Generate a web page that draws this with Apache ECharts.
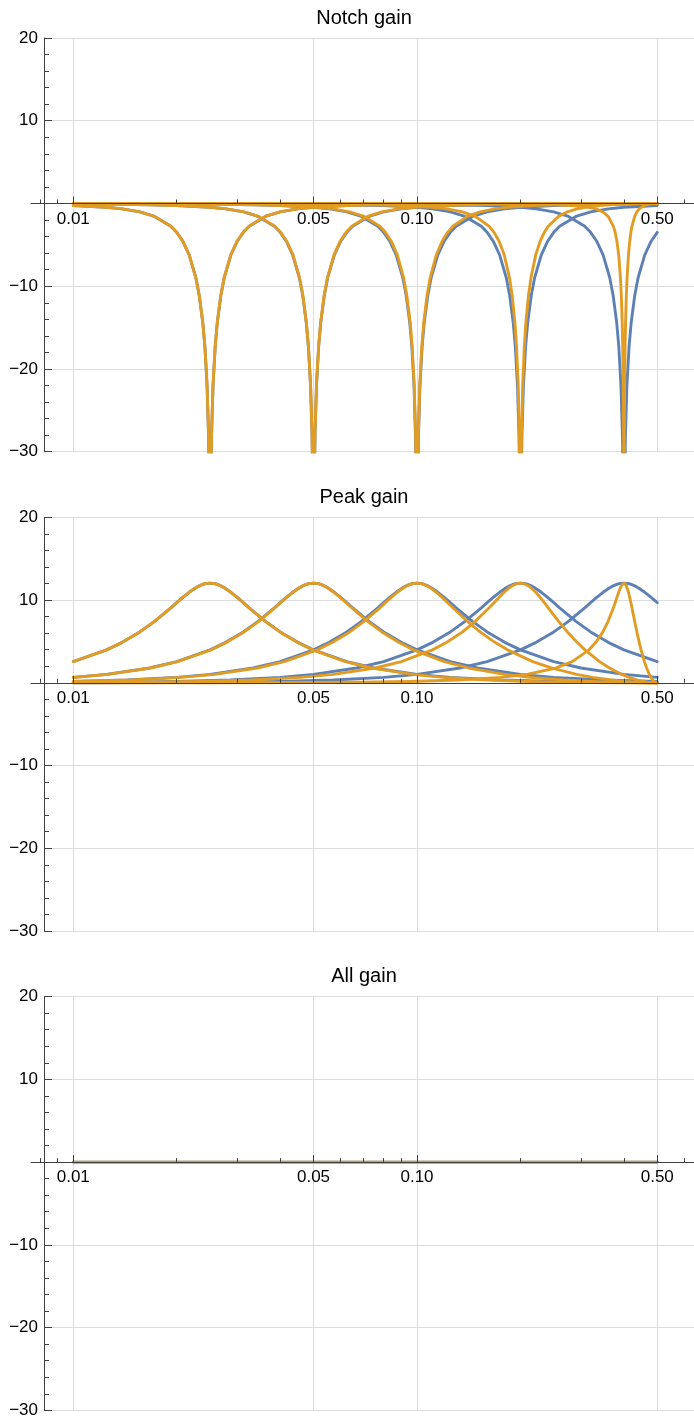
<!DOCTYPE html>
<html><head><meta charset="utf-8">
<script src="https://cdn.jsdelivr.net/npm/echarts@6/dist/echarts.min.js"></script>
<style>html,body{margin:0;padding:0;background:#fff}#c{width:694px;height:1421px}</style>
</head><body><div id="c"></div>
<script>
// ---- labels / ticks ----
const panelTitles = ['Notch gain', 'Peak gain', 'All gain'];
const xMajorTicks = [0.01, 0.05, 0.1, 0.5];
const xMinorTicks = [0.008, 0.009, 0.02, 0.03, 0.04, 0.06, 0.07, 0.08, 0.09, 0.2, 0.3, 0.4, 0.6];
const yGridValues = [20, 10, 0, -10, -20, -30];
const xRange = [0.0075344, 0.63958];
const yRange = [-30, 20];
const yAxisAt = 0.00822;

// ---- Notch gain (dB) : blue = analog, orange = digital ----
const notchBlue025 = [[0.01,-0.24],[0.0125,-0.46],[0.013889,-0.65],[0.015625,-1.01],[0.017241,-1.56],[0.019231,-2.76],[0.02,-3.49],[0.020833,-4.56],[0.021739,-6.21],[0.022727,-8.95],[0.023256,-11.12],[0.02381,-14.35],[0.024155,-17.31],[0.02451,-22.05],[0.024752,-28.0],[0.024876,-34.0],[0.02495,-41.9],[0.02505,-41.9],[0.025125,-34.0],[0.02525,-28.0],[0.0255,-22.05],[0.025875,-17.31],[0.02625,-14.35],[0.026875,-11.12],[0.0275,-8.95],[0.02875,-6.21],[0.03,-4.56],[0.03125,-3.49],[0.0325,-2.76],[0.03625,-1.56],[0.04,-1.01],[0.045,-0.65],[0.05,-0.46],[0.0625,-0.24],[0.075,-0.15],[0.1,-0.077],[0.125,-0.047],[0.175,-0.023],[0.25,-0.011],[0.35,-0.006],[0.5,-0.003]];
const notchBlue05 = [[0.01,-0.047],[0.0125,-0.077],[0.016667,-0.15],[0.02,-0.24],[0.025,-0.46],[0.027778,-0.65],[0.03125,-1.01],[0.034483,-1.56],[0.038462,-2.76],[0.04,-3.49],[0.041667,-4.56],[0.043478,-6.21],[0.045455,-8.95],[0.046512,-11.12],[0.047619,-14.35],[0.048309,-17.31],[0.04902,-22.05],[0.049505,-28.0],[0.049751,-34.0],[0.0499,-41.9],[0.0501,-41.9],[0.05025,-34.0],[0.0505,-28.0],[0.051,-22.05],[0.05175,-17.31],[0.0525,-14.35],[0.05375,-11.12],[0.055,-8.95],[0.0575,-6.21],[0.06,-4.56],[0.0625,-3.49],[0.065,-2.76],[0.0725,-1.56],[0.08,-1.01],[0.09,-0.65],[0.1,-0.46],[0.125,-0.24],[0.15,-0.15],[0.2,-0.077],[0.25,-0.047],[0.35,-0.023],[0.5,-0.011]];
const notchBlue1 = [[0.01,-0.011],[0.014286,-0.023],[0.02,-0.047],[0.025,-0.077],[0.033333,-0.15],[0.04,-0.24],[0.05,-0.46],[0.055556,-0.65],[0.0625,-1.01],[0.068966,-1.56],[0.076923,-2.76],[0.08,-3.49],[0.083333,-4.56],[0.086957,-6.21],[0.090909,-8.95],[0.093023,-11.12],[0.095238,-14.35],[0.096618,-17.31],[0.098039,-22.05],[0.09901,-28.0],[0.099502,-34.0],[0.0998,-41.9],[0.1002,-41.9],[0.1005,-34.0],[0.101,-28.0],[0.102,-22.05],[0.1035,-17.31],[0.105,-14.35],[0.1075,-11.12],[0.11,-8.95],[0.115,-6.21],[0.12,-4.56],[0.125,-3.49],[0.13,-2.76],[0.145,-1.56],[0.16,-1.01],[0.18,-0.65],[0.2,-0.46],[0.25,-0.24],[0.3,-0.15],[0.4,-0.077],[0.5,-0.047]];
const notchBlue2 = [[0.01,-0.003],[0.014286,-0.006],[0.02,-0.011],[0.028571,-0.023],[0.04,-0.047],[0.05,-0.077],[0.066667,-0.15],[0.08,-0.24],[0.1,-0.46],[0.111111,-0.65],[0.125,-1.01],[0.137931,-1.56],[0.153846,-2.76],[0.16,-3.49],[0.166667,-4.56],[0.173913,-6.21],[0.181818,-8.95],[0.186047,-11.12],[0.190476,-14.35],[0.193237,-17.31],[0.196078,-22.05],[0.19802,-28.0],[0.199005,-34.0],[0.1996,-41.9],[0.2004,-41.9],[0.201,-34.0],[0.202,-28.0],[0.204,-22.05],[0.207,-17.31],[0.21,-14.35],[0.215,-11.12],[0.22,-8.95],[0.23,-6.21],[0.24,-4.56],[0.25,-3.49],[0.26,-2.76],[0.29,-1.56],[0.32,-1.01],[0.36,-0.65],[0.4,-0.46],[0.5,-0.24]];
const notchBlue4 = [[0.01,-0.001],[0.02,-0.003],[0.028571,-0.006],[0.04,-0.011],[0.057143,-0.023],[0.08,-0.047],[0.1,-0.077],[0.133333,-0.15],[0.16,-0.24],[0.2,-0.46],[0.222222,-0.65],[0.25,-1.01],[0.275862,-1.56],[0.307692,-2.76],[0.32,-3.49],[0.333333,-4.56],[0.347826,-6.21],[0.363636,-8.95],[0.372093,-11.12],[0.380952,-14.35],[0.386473,-17.31],[0.392157,-22.05],[0.39604,-28.0],[0.39801,-34.0],[0.399202,-41.9],[0.4008,-41.9],[0.402,-34.0],[0.404,-28.0],[0.408,-22.05],[0.414,-17.31],[0.42,-14.35],[0.43,-11.12],[0.44,-8.95],[0.46,-6.21],[0.48,-4.56],[0.5,-3.49]];

const notchOrange025 = [[0.01,-0.24],[0.0125,-0.46],[0.013889,-0.65],[0.015625,-1.01],[0.017241,-1.56],[0.019231,-2.76],[0.02,-3.49],[0.020833,-4.56],[0.021739,-6.21],[0.022727,-8.95],[0.023256,-11.12],[0.02381,-14.35],[0.024155,-17.31],[0.02451,-22.05],[0.024752,-28.0],[0.024876,-34.0],[0.02495,-41.9],[0.02505,-41.9],[0.025124,-34.0],[0.025249,-28.0],[0.025498,-22.05],[0.025871,-17.31],[0.026245,-14.35],[0.026866,-11.12],[0.027488,-8.95],[0.028731,-6.21],[0.029973,-4.56],[0.031214,-3.49],[0.032454,-2.76],[0.036168,-1.56],[0.039873,-1.01],[0.044795,-0.65],[0.049695,-0.46],[0.061839,-0.24],[0.073803,-0.15],[0.097079,-0.077],[0.119333,-0.047],[0.160283,-0.023],[0.212243,-0.011],[0.265411,-0.006],[0.319843,-0.003],[0.402097,-0.001],[0.5,0]];
const notchOrange05 = [[0.01,-0.046],[0.012598,-0.077],[0.016791,-0.15],[0.02014,-0.24],[0.025157,-0.46],[0.027939,-0.65],[0.031409,-1.01],[0.034634,-1.56],[0.038593,-2.76],[0.04012,-3.49],[0.041773,-4.56],[0.043567,-6.21],[0.045521,-8.95],[0.046564,-11.12],[0.047656,-14.35],[0.048336,-17.31],[0.049036,-22.05],[0.049513,-28.0],[0.049755,-34.0],[0.049902,-41.9],[0.050098,-41.9],[0.050246,-34.0],[0.050492,-28.0],[0.050983,-22.05],[0.051719,-17.31],[0.052456,-14.35],[0.053682,-11.12],[0.054906,-8.95],[0.057349,-6.21],[0.059785,-4.56],[0.062196,-3.49],[0.064636,-2.76],[0.071856,-1.56],[0.079001,-1.01],[0.088402,-0.65],[0.097648,-0.46],[0.120008,-0.24],[0.141195,-0.15],[0.179753,-0.077],[0.213204,-0.047],[0.266393,-0.023],[0.320737,-0.011],[0.365141,-0.006],[0.402667,-0.003],[0.5,0]];
const notchOrange1 = [[0.01,-0.01],[0.014764,-0.023],[0.020656,-0.047],[0.0258,-0.077],[0.034341,-0.15],[0.041139,-0.24],[0.051265,-0.46],[0.056846,-0.65],[0.063774,-1.01],[0.070168,-1.56],[0.077961,-2.76],[0.080949,-3.49],[0.08417,-4.56],[0.08765,-6.21],[0.091423,-8.95],[0.093434,-11.12],[0.095524,-14.35],[0.096825,-17.31],[0.098161,-22.05],[0.099072,-28.0],[0.099533,-34.0],[0.099815,-41.9],[0.100187,-41.9],[0.100467,-34.0],[0.100934,-28.0],[0.101867,-22.05],[0.103262,-17.31],[0.104655,-14.35],[0.106965,-11.12],[0.109264,-8.95],[0.113825,-6.21],[0.118339,-4.56],[0.122803,-3.49],[0.127216,-2.76],[0.140149,-1.56],[0.152604,-1.01],[0.168454,-0.65],[0.183429,-0.46],[0.217148,-0.24],[0.245931,-0.15],[0.291247,-0.077],[0.324369,-0.047],[0.368146,-0.023],[0.40496,-0.011],[0.431119,-0.006],[0.451398,-0.003],[0.5,0]];
const notchOrange2 = [[0.01,-0.002],[0.011558,-0.003],[0.016504,-0.006],[0.023086,-0.011],[0.03292,-0.023],[0.045932,-0.047],[0.057181,-0.077],[0.075634,-0.15],[0.090026,-0.24],[0.110914,-0.46],[0.122115,-0.65],[0.135679,-1.01],[0.147853,-1.56],[0.162223,-2.76],[0.167594,-3.49],[0.173295,-4.56],[0.179353,-6.21],[0.185802,-8.95],[0.189182,-11.12],[0.192672,-14.35],[0.194821,-17.31],[0.197011,-22.05],[0.198496,-28.0],[0.199245,-34.0],[0.199697,-41.9],[0.200303,-41.9],[0.200756,-34.0],[0.201509,-28.0],[0.203007,-22.05],[0.205234,-17.31],[0.207439,-14.35],[0.211061,-11.12],[0.214622,-8.95],[0.221554,-6.21],[0.228243,-4.56],[0.234695,-3.49],[0.240919,-2.76],[0.258289,-1.56],[0.273872,-1.01],[0.292202,-0.65],[0.308138,-0.46],[0.339807,-0.24],[0.363083,-0.15],[0.394512,-0.077],[0.414497,-0.047],[0.438203,-0.023],[0.456461,-0.011],[0.468806,-0.006],[0.478128,-0.003],[0.5,0]];
const notchOrange4 = [[0.01,0],[0.024443,-0.001],[0.048602,-0.003],[0.06888,-0.006],[0.095036,-0.011],[0.131855,-0.023],[0.175633,-0.047],[0.208753,-0.077],[0.254069,-0.15],[0.282852,-0.24],[0.316571,-0.46],[0.331548,-0.65],[0.347397,-1.01],[0.359852,-1.56],[0.372784,-2.76],[0.377198,-3.49],[0.381662,-4.56],[0.386176,-6.21],[0.390737,-8.95],[0.393036,-11.12],[0.395346,-14.35],[0.396738,-17.31],[0.398133,-22.05],[0.399066,-28.0],[0.399533,-34.0],[0.399813,-41.9],[0.400187,-41.9],[0.400466,-34.0],[0.400927,-28.0],[0.401838,-22.05],[0.403174,-17.31],[0.404475,-14.35],[0.40657,-11.12],[0.408577,-8.95],[0.41235,-6.21],[0.41583,-4.56],[0.419051,-3.49],[0.422039,-2.76],[0.429831,-1.56],[0.436226,-1.01],[0.443153,-0.65],[0.448735,-0.46],[0.45886,-0.24],[0.465658,-0.15],[0.4742,-0.077],[0.479344,-0.047],[0.485235,-0.023],[0.489661,-0.011],[0.494829,-0.003],[0.5,0]];

// ---- Peak gain (dB) ----
const peakBlue025 = [[0.01,2.56],[0.0125,3.98],[0.013889,4.89],[0.015625,6.15],[0.017241,7.43],[0.019231,9.06],[0.02,9.68],[0.020833,10.32],[0.021739,10.94],[0.022727,11.49],[0.023256,11.71],[0.02381,11.89],[0.024155,11.97],[0.02451,12.02],[0.024752,12.03],[0.025,12.04],[0.02525,12.03],[0.0255,12.02],[0.025875,11.97],[0.02625,11.89],[0.026875,11.71],[0.0275,11.49],[0.02875,10.94],[0.03,10.32],[0.03125,9.68],[0.0325,9.06],[0.03625,7.43],[0.04,6.15],[0.045,4.89],[0.05,3.98],[0.0625,2.56],[0.075,1.79],[0.1,1.01],[0.125,0.65],[0.175,0.33],[0.25,0.16],[0.35,0.08],[0.5,0.04]];
const peakBlue05 = [[0.01,0.65],[0.0125,1.01],[0.016667,1.79],[0.02,2.56],[0.025,3.98],[0.027778,4.89],[0.03125,6.15],[0.034483,7.43],[0.038462,9.06],[0.04,9.68],[0.041667,10.32],[0.043478,10.94],[0.045455,11.49],[0.046512,11.71],[0.047619,11.89],[0.048309,11.97],[0.04902,12.02],[0.049505,12.03],[0.05,12.04],[0.0505,12.03],[0.051,12.02],[0.05175,11.97],[0.0525,11.89],[0.05375,11.71],[0.055,11.49],[0.0575,10.94],[0.06,10.32],[0.0625,9.68],[0.065,9.06],[0.0725,7.43],[0.08,6.15],[0.09,4.89],[0.1,3.98],[0.125,2.56],[0.15,1.79],[0.2,1.01],[0.25,0.65],[0.35,0.33],[0.5,0.16]];
const peakBlue1 = [[0.01,0.16],[0.014286,0.33],[0.02,0.65],[0.025,1.01],[0.033333,1.79],[0.04,2.56],[0.05,3.98],[0.055556,4.89],[0.0625,6.15],[0.068966,7.43],[0.076923,9.06],[0.08,9.68],[0.083333,10.32],[0.086957,10.94],[0.090909,11.49],[0.093023,11.71],[0.095238,11.89],[0.096618,11.97],[0.098039,12.02],[0.09901,12.03],[0.1,12.04],[0.101,12.03],[0.102,12.02],[0.1035,11.97],[0.105,11.89],[0.1075,11.71],[0.11,11.49],[0.115,10.94],[0.12,10.32],[0.125,9.68],[0.13,9.06],[0.145,7.43],[0.16,6.15],[0.18,4.89],[0.2,3.98],[0.25,2.56],[0.3,1.79],[0.4,1.01],[0.5,0.65]];
const peakBlue2 = [[0.01,0.04],[0.014286,0.08],[0.02,0.16],[0.028571,0.33],[0.04,0.65],[0.05,1.01],[0.066667,1.79],[0.08,2.56],[0.1,3.98],[0.111111,4.89],[0.125,6.15],[0.137931,7.43],[0.153846,9.06],[0.16,9.68],[0.166667,10.32],[0.173913,10.94],[0.181818,11.49],[0.186047,11.71],[0.190476,11.89],[0.193237,11.97],[0.196078,12.02],[0.19802,12.03],[0.2,12.04],[0.202,12.03],[0.204,12.02],[0.207,11.97],[0.21,11.89],[0.215,11.71],[0.22,11.49],[0.23,10.94],[0.24,10.32],[0.25,9.68],[0.26,9.06],[0.29,7.43],[0.32,6.15],[0.36,4.89],[0.4,3.98],[0.5,2.56]];
const peakBlue4 = [[0.01,0.01],[0.02,0.04],[0.028571,0.08],[0.04,0.16],[0.057143,0.33],[0.08,0.65],[0.1,1.01],[0.133333,1.79],[0.16,2.56],[0.2,3.98],[0.222222,4.89],[0.25,6.15],[0.275862,7.43],[0.307692,9.06],[0.32,9.68],[0.333333,10.32],[0.347826,10.94],[0.363636,11.49],[0.372093,11.71],[0.380952,11.89],[0.386473,11.97],[0.392157,12.02],[0.39604,12.03],[0.4,12.04],[0.404,12.03],[0.408,12.02],[0.414,11.97],[0.42,11.89],[0.43,11.71],[0.44,11.49],[0.46,10.94],[0.48,10.32],[0.5,9.68]];

const peakOrange025 = [[0.01,2.56],[0.0125,3.98],[0.013889,4.89],[0.015625,6.15],[0.017241,7.43],[0.019231,9.06],[0.02,9.68],[0.020833,10.32],[0.021739,10.94],[0.022727,11.49],[0.023256,11.71],[0.02381,11.89],[0.024155,11.97],[0.02451,12.02],[0.024752,12.03],[0.025,12.04],[0.025249,12.03],[0.025498,12.02],[0.025871,11.97],[0.026245,11.89],[0.026866,11.71],[0.027488,11.49],[0.028731,10.94],[0.029973,10.32],[0.031214,9.68],[0.032454,9.06],[0.036168,7.43],[0.039873,6.15],[0.044795,4.89],[0.049695,3.98],[0.061839,2.56],[0.073803,1.79],[0.097079,1.01],[0.119333,0.65],[0.160283,0.33],[0.212243,0.16],[0.265411,0.08],[0.319843,0.04],[0.402097,0.01],[0.5,0]];
const peakOrange05 = [[0.01,0.64],[0.012598,1.01],[0.016791,1.79],[0.02014,2.56],[0.025157,3.98],[0.027939,4.89],[0.031409,6.15],[0.034634,7.43],[0.038593,9.06],[0.04012,9.68],[0.041773,10.32],[0.043567,10.94],[0.045521,11.49],[0.046564,11.71],[0.047656,11.89],[0.048336,11.97],[0.049036,12.02],[0.049513,12.03],[0.05,12.04],[0.050492,12.03],[0.050983,12.02],[0.051719,11.97],[0.052456,11.89],[0.053682,11.71],[0.054906,11.49],[0.057349,10.94],[0.059785,10.32],[0.062196,9.68],[0.064636,9.06],[0.071856,7.43],[0.079001,6.15],[0.088402,4.89],[0.097648,3.98],[0.120008,2.56],[0.141195,1.79],[0.179753,1.01],[0.213204,0.65],[0.266393,0.33],[0.320737,0.16],[0.365141,0.08],[0.402667,0.04],[0.450167,0.01],[0.5,0]];
const peakOrange1 = [[0.01,0.15],[0.014764,0.33],[0.020656,0.65],[0.0258,1.01],[0.034341,1.79],[0.041139,2.56],[0.051265,3.98],[0.056846,4.89],[0.063774,6.15],[0.070168,7.43],[0.077961,9.06],[0.080949,9.68],[0.08417,10.32],[0.08765,10.94],[0.091423,11.49],[0.093434,11.71],[0.095524,11.89],[0.096825,11.97],[0.098161,12.02],[0.099072,12.03],[0.1,12.04],[0.100934,12.03],[0.101867,12.02],[0.103262,11.97],[0.104655,11.89],[0.106965,11.71],[0.109264,11.49],[0.113825,10.94],[0.118339,10.32],[0.122803,9.68],[0.127216,9.06],[0.140149,7.43],[0.152604,6.15],[0.168454,4.89],[0.183429,3.98],[0.217148,2.56],[0.245931,1.79],[0.291247,1.01],[0.324369,0.65],[0.368146,0.33],[0.40496,0.16],[0.431119,0.08],[0.451398,0.04],[0.475555,0.01],[0.5,0]];
const peakOrange2 = [[0.01,0.03],[0.011558,0.04],[0.016504,0.08],[0.023086,0.16],[0.03292,0.33],[0.045932,0.65],[0.057181,1.01],[0.075634,1.79],[0.090026,2.56],[0.110914,3.98],[0.122115,4.89],[0.135679,6.15],[0.147853,7.43],[0.162223,9.06],[0.167594,9.68],[0.173295,10.32],[0.179353,10.94],[0.185802,11.49],[0.189182,11.71],[0.192672,11.89],[0.194821,11.97],[0.197011,12.02],[0.198496,12.03],[0.2,12.04],[0.201509,12.03],[0.203007,12.02],[0.205234,11.97],[0.207439,11.89],[0.211061,11.71],[0.214622,11.49],[0.221554,10.94],[0.228243,10.32],[0.234695,9.68],[0.240919,9.06],[0.258289,7.43],[0.273872,6.15],[0.292202,4.89],[0.308138,3.98],[0.339807,2.56],[0.363083,1.79],[0.394512,1.01],[0.414497,0.65],[0.438203,0.33],[0.456461,0.16],[0.468806,0.08],[0.478128,0.04],[0.489051,0.01],[0.5,0]];
const peakOrange4 = [[0.01,0],[0.024443,0.01],[0.048602,0.04],[0.06888,0.08],[0.095036,0.16],[0.131855,0.33],[0.175633,0.65],[0.208753,1.01],[0.254069,1.79],[0.282852,2.56],[0.316571,3.98],[0.331548,4.89],[0.347397,6.15],[0.359852,7.43],[0.372784,9.06],[0.377198,9.68],[0.381662,10.32],[0.386176,10.94],[0.390737,11.49],[0.393036,11.71],[0.395346,11.89],[0.396738,11.97],[0.398133,12.02],[0.399066,12.03],[0.4,12.04],[0.400927,12.03],[0.401838,12.02],[0.403174,11.97],[0.404475,11.89],[0.40657,11.71],[0.408577,11.49],[0.41235,10.94],[0.41583,10.32],[0.419051,9.68],[0.422039,9.06],[0.429831,7.43],[0.436226,6.15],[0.443153,4.89],[0.448735,3.98],[0.45886,2.56],[0.465658,1.79],[0.4742,1.01],[0.479344,0.65],[0.485235,0.33],[0.489661,0.16],[0.492614,0.08],[0.494829,0.04],[0.5,0]];

// ---- All gain (dB) ----
const allBlue = [[0.01,0],[0.05,0],[0.1,0],[0.5,0]];
const allOrange = [[0.01,0],[0.05,0],[0.1,0],[0.5,0]];

const panelBlue = [[notchBlue025, notchBlue05, notchBlue1, notchBlue2, notchBlue4],
                   [peakBlue025, peakBlue05, peakBlue1, peakBlue2, peakBlue4],
                   [allBlue]];
const panelOrange = [[notchOrange025, notchOrange05, notchOrange1, notchOrange2, notchOrange4],
                     [peakOrange025, peakOrange05, peakOrange1, peakOrange2, peakOrange4],
                     [allOrange]];

// ---- styling ----
const FONT = '"Liberation Sans", Arial, sans-serif';
const BLUE = '#5E81B5', ORANGE = '#E19C24', AXIS = '#404040', GRIDC = '#dcdcdc';
const panelTop = [38, 517.3, 996.6];
const plotH = 413.7;
// x axis sits on the y = 0 line: distance from the bottom (-30) up to 0
const xAxisLift = -plotH * (0 - yRange[0]) / (yRange[1] - yRange[0]);
const LW = 2.9;

const grids = [], xAxes = [], yAxes = [], series = [], titles = [];
panelTop.forEach((top, k) => {
  grids.push({left: 31, right: 0, top: top, height: plotH, containLabel: false, outerBoundsMode: 'none'});
  xAxes.push({
    type: 'log', logBase: 10, gridIndex: k, min: xRange[0], max: xRange[1], position: 'bottom',
    offset: xAxisLift, z: 3,
    axisLine: {show: true, onZero: false, lineStyle: {color: AXIS, width: 1}},
    axisTick: {show: true, inside: true, length: 7, customValues: xMajorTicks, lineStyle: {color: AXIS, width: 1}},
    minorTick: {show: false},
    axisLabel: {show: true, customValues: xMajorTicks, margin: 7, formatter: v => Number(v).toFixed(2),
      color: '#000', fontSize: 17, fontFamily: FONT},
    splitLine: {show: false}
  });
  xAxes.push({
    type: 'log', logBase: 10, gridIndex: k, min: xRange[0], max: xRange[1], position: 'bottom',
    offset: xAxisLift, z: 3,
    axisLine: {show: false, onZero: false},
    axisTick: {show: true, inside: true, length: 4, customValues: xMinorTicks, lineStyle: {color: AXIS, width: 1}},
    minorTick: {show: false},
    axisLabel: {show: false},
    splitLine: {show: false}
  });
  yAxes.push({
    type: 'value', gridIndex: k, min: yRange[0], max: yRange[1], interval: 10, position: 'left', offset: -13, z: 3,
    axisLine: {show: true, onZero: false, lineStyle: {color: AXIS, width: 1}},
    axisTick: {show: true, inside: true, length: 8, lineStyle: {color: AXIS, width: 1}},
    minorTick: {show: true, splitNumber: 5, length: 5, lineStyle: {color: AXIS, width: 1}},
    axisLabel: {margin: 6, formatter: v => (v === 0 ? '' : (v < 0 ? '\u2212' + Math.abs(v) : String(v))),
      color: '#000', fontSize: 17, fontFamily: FONT},
    splitLine: {show: false}
  });
  titles.push({
    text: panelTitles[k], left: 359, top: top - 35, textAlign: 'center',
    textStyle: {fontSize: 20, fontWeight: 'normal', color: '#000', fontFamily: FONT}
  });
  const gridLines = yGridValues.map(v => [{coord: [yAxisAt, v]}, {coord: [xRange[1], v]}])
    .concat(xMajorTicks.map(v => ({xAxis: v})));
  panelBlue[k].forEach((d, i) => {
    const s = {type: 'line', xAxisIndex: 2 * k, yAxisIndex: k, data: d, showSymbol: false, symbol: 'none',
      clip: true, lineStyle: {color: BLUE, width: LW, cap: 'round', join: 'round'}, itemStyle: {color: BLUE},
      emphasis: {disabled: true}, silent: true, animation: false, z: 2};
    if (i === 0) {
      s.markLine = {z: 1, silent: true, animation: false, symbol: ['none', 'none'], label: {show: false},
        emphasis: {disabled: true}, lineStyle: {color: GRIDC, width: 1, type: 'solid'}, data: gridLines};
    }
    series.push(s);
  });
  panelOrange[k].forEach(d => {
    series.push({type: 'line', xAxisIndex: 2 * k, yAxisIndex: k, data: d, showSymbol: false, symbol: 'none',
      clip: true, lineStyle: {color: ORANGE, width: LW, cap: 'round', join: 'round'}, itemStyle: {color: ORANGE},
      emphasis: {disabled: true}, silent: true, animation: false, z: 2});
  });
});

const chart = echarts.init(document.getElementById('c'), null, {renderer: 'canvas'});
chart.setOption({
  animation: false,
  backgroundColor: '#ffffff',
  title: titles,
  grid: grids,
  xAxis: xAxes,
  yAxis: yAxes,
  series: series
});
</script>
</body></html>
